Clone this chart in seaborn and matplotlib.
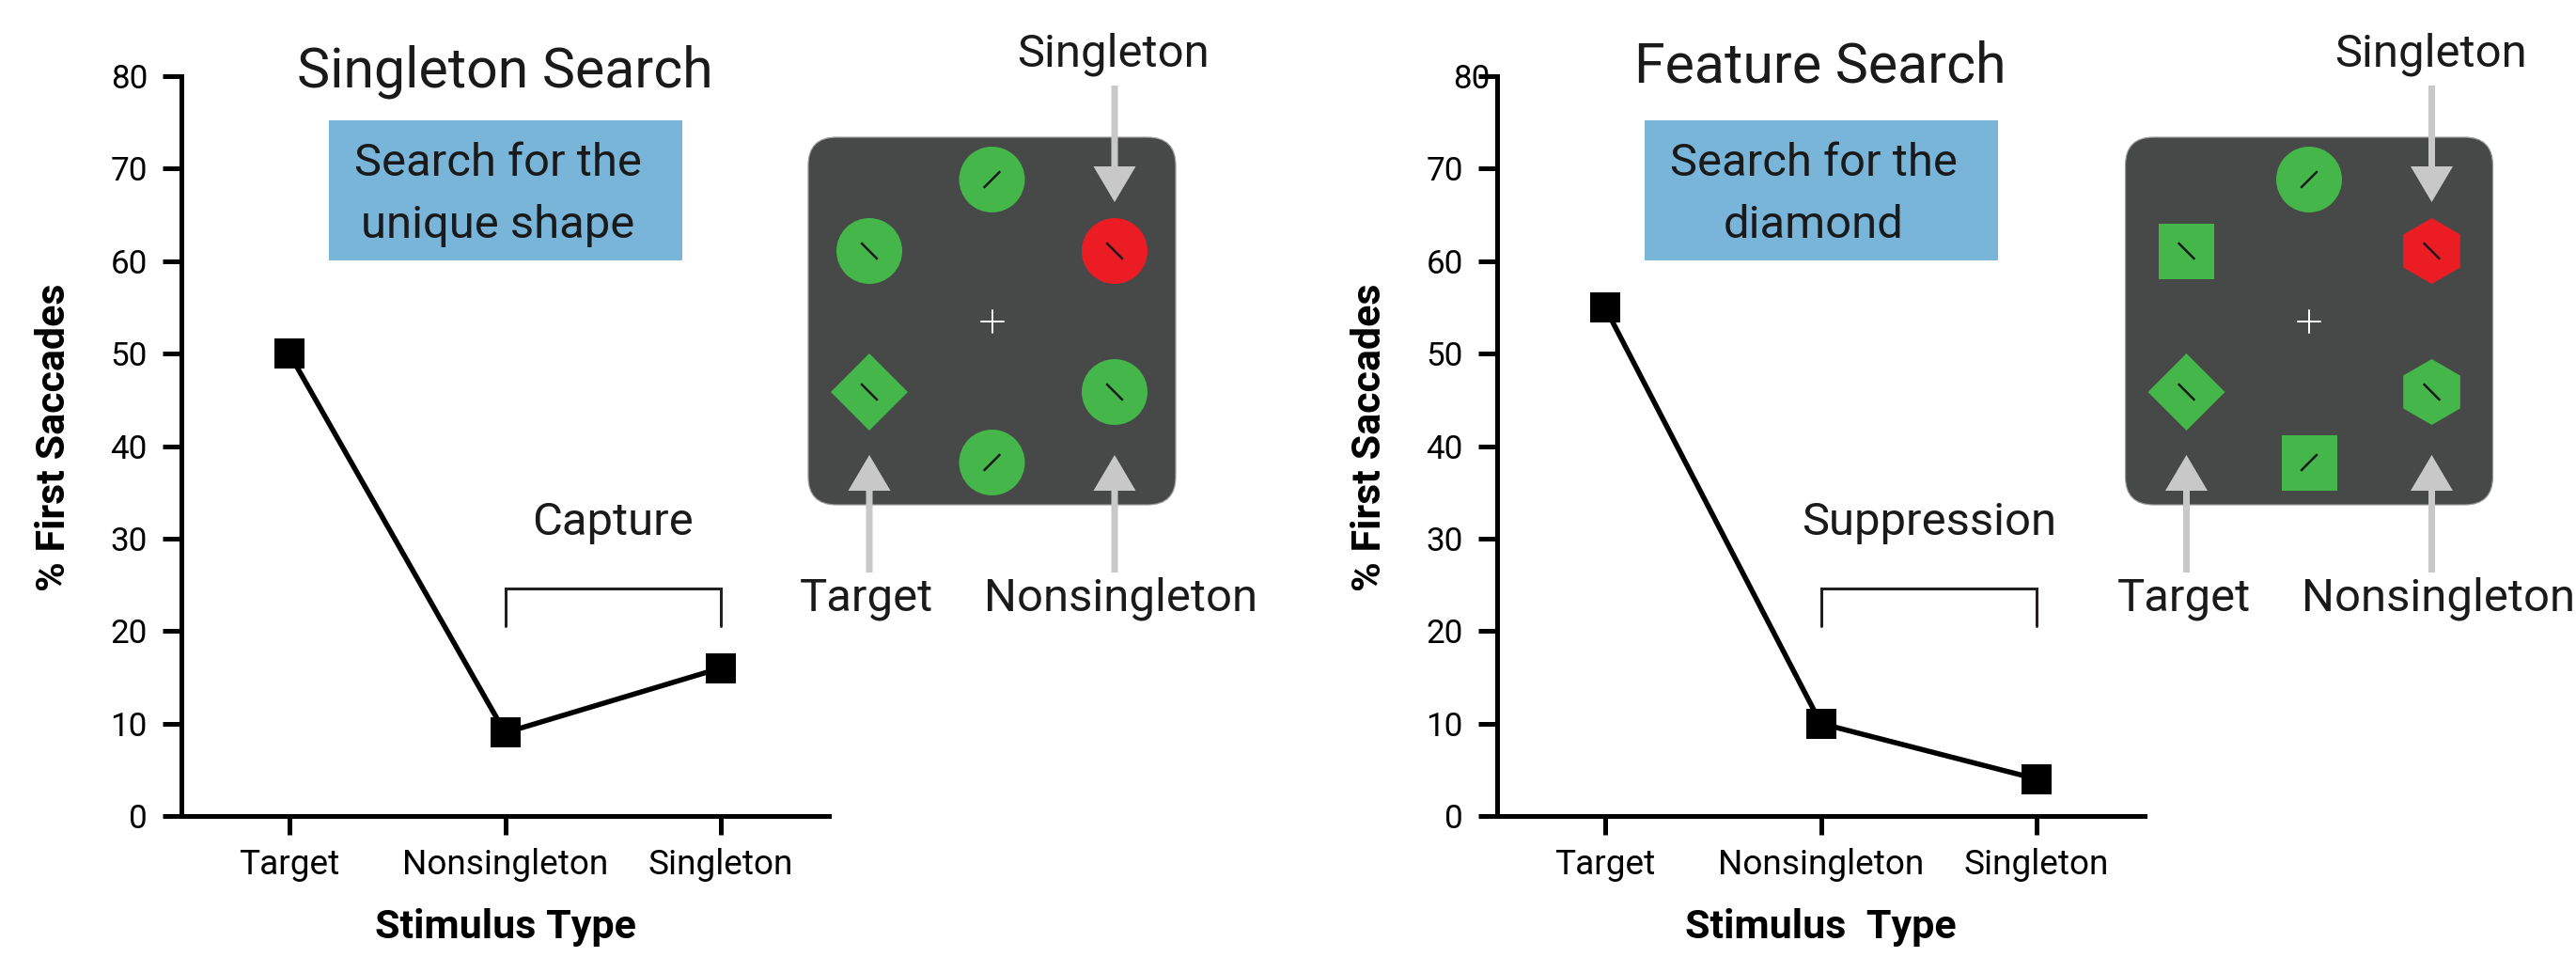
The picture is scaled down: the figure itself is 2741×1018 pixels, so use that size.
import matplotlib
matplotlib.use("Agg")
import matplotlib.pyplot as plt
from matplotlib.patches import FancyBboxPatch, Rectangle, Circle, RegularPolygon, FancyArrow
from matplotlib.transforms import ScaledTranslation
import pandas as pd
import seaborn as sns

# ---- data ----
categories = ["Target", "Nonsingleton", "Singleton"]
singleton_search = [50, 9, 16]
feature_search = [55, 10, 4]
y_ticks = [0, 10, 20, 30, 40, 50, 60, 70, 80]

titles = ["Singleton Search", "Feature Search"]
instructions = [["Search for the", "unique shape"], ["Search for the", "diamond"]]
effects = ["Capture", "Suppression"]
xlabels = ["Stimulus Type", "Stimulus  Type"]
ylabel = "% First Saccades"

# search display items: top, upper-left, upper-right, lower-left, lower-right, bottom
display_shapes = [
    ["circle", "circle", "circle", "diamond", "circle", "circle"],
    ["circle", "square", "hexagon", "diamond", "hexagon", "square"],
]
display_colors = [
    ["green", "green", "red", "green", "green", "green"],
    ["green", "green", "red", "green", "green", "green"],
]
display_tilts = ["/", "\\", "\\", "\\", "\\", "/"]

df = pd.DataFrame({
    "search": [titles[0]] * 3 + [titles[1]] * 3,
    "type": categories * 2,
    "pct": singleton_search + feature_search,
})

# ---- style ----
sns.set_theme(style="ticks")
plt.rcParams["font.family"] = ["Roboto", "DejaVu Sans"]
plt.rcParams["text.color"] = "#1a1a1a"

W, H = 2741, 1018
fig = plt.figure(figsize=(W / 72, H / 72), dpi=72)
fig.patch.set_facecolor("white")

GREEN = "#45b649"
RED = "#ec1c24"
BOX = "#474948"
ARROW = "#c8c8c8"
BLUE = "#79b4d9"
INK = "#1a1a1a"
shift = 1400

axes = []
for i, name in enumerate(titles):
    x0 = 193 + i * shift
    ax = fig.add_axes([x0 / W, 150 / H, 689 / W, 787 / H])
    sub = df[df["search"] == name]
    sns.pointplot(data=sub, x="type", y="pct", order=categories, color="black",
                  markers="s", markersize=32, markeredgewidth=0, linewidth=5.5,
                  errorbar=None, ax=ax)
    ax.set_xlim(-0.5, 2.5)
    ax.set_ylim(0, 80)
    ax.set_yticks(y_ticks)
    sns.despine(ax=ax)
    for s in ["left", "bottom"]:
        ax.spines[s].set_linewidth(5)
        ax.spines[s].set_color("black")
    ax.tick_params(axis="y", length=20, width=5, pad=16, labelsize=35, colors="black")
    ax.tick_params(axis="x", length=20, width=5, pad=14, labelsize=37, colors="black")
    ax.set_ylabel(ylabel, fontsize=43, fontweight="bold", va="center", color="black")
    ax.yaxis.set_label_coords(-0.196, 0.512)
    ax.set_xlabel(xlabels[i], fontsize=43, fontweight="bold", va="baseline", color="black")
    ax.xaxis.set_label_coords(0.5, -0.165)

    # bracket over nonsingleton / singleton
    ax.plot([1, 1, 2, 2], [20.5, 24.6, 24.6, 20.5], color="#231f20", lw=3,
            solid_joinstyle="miter")
    ax.text(1.5, 31.7, effects[i], ha="center", va="center", fontsize=49, color=INK)
    axes.append(ax)

# misplaced "80" label in the right panel
lab = axes[1].get_yticklabels()[-1]
lab.set_transform(lab.get_transform() + ScaledTranslation(28 / 72, 0, fig.dpi_scale_trans))

# ---- overlay for titles, instruction boxes and search displays (pixel coords) ----
ov = fig.add_axes([0, 0, 1, 1])
ov.set_xlim(0, W)
ov.set_ylim(H, 0)
ov.axis("off")
ov.patch.set_alpha(0)

slots = [(0, -150.5), (-130.5, -74.5), (130.5, -74.5), (-130.5, 75.5), (130.5, 75.5), (0, 150.5)]


def draw_display(cx, cy, shapes, colors):
    ov.add_patch(FancyBboxPatch((cx - 195.5, cy - 195.5), 391, 391,
                                boxstyle="round,pad=0,rounding_size=30",
                                fc=BOX, ec="#9c9c9c", lw=1.2))
    for (dx, dy), shp, col, tilt in zip(slots, shapes, colors, display_tilts):
        x, y = cx + dx, cy + dy
        c = GREEN if col == "green" else RED
        if shp == "circle":
            p = Circle((x, y), 35, fc=c, ec="none")
        elif shp == "square":
            p = Rectangle((x - 29.5, y - 29.5), 59, 59, fc=c, ec="none")
        elif shp == "diamond":
            p = RegularPolygon((x, y), 4, radius=41, fc=c, ec="none")
        else:
            p = RegularPolygon((x, y), 6, radius=35, fc=c, ec="none")
        ov.add_patch(p)
        s = 8.8 if tilt == "\\" else -8.8
        ov.plot([x - 8.8, x + 8.8], [y - s, y + s], color=INK, lw=2.5, solid_capstyle="butt")
    ov.plot([cx - 12, cx + 12], [cy, cy], color="white", lw=2)
    ov.plot([cx, cx], [cy - 12, cy + 12], color="white", lw=2)
    # arrows
    xr, xl = cx + 130.5, cx - 130.5
    kw = dict(width=7, head_width=45, head_length=38, length_includes_head=True,
              fc=ARROW, ec="none")
    ov.add_patch(FancyArrow(xr, 91, 0, 124, **kw))
    ov.add_patch(FancyArrow(xl, 609, 0, -125, **kw))
    ov.add_patch(FancyArrow(xr, 609, 0, -125, **kw))
    ov.text(xr - 1, 70, "Singleton", ha="center", va="baseline", fontsize=49, color=INK)
    ov.text(xl - 3, 650, "Target", ha="center", va="baseline", fontsize=49, color=INK)
    ov.text(xr + 7, 650, "Nonsingleton", ha="center", va="baseline", fontsize=49, color=INK)


for i in range(2):
    off = i * shift
    ov.text(537 + off, 92 - 5 * i, titles[i], ha="center", va="baseline", fontsize=59, color=INK)
    ov.add_patch(Rectangle((350 + off, 128), 376, 149, fc=BLUE, ec="none"))
    for line, yb in zip(instructions[i], [187, 253]):
        ov.text(530 + off, yb, line, ha="center", va="baseline", fontsize=49, color=INK)
    draw_display(1055.5 + i * 1401.5, 341.5, display_shapes[i], display_colors[i])

fig.savefig("out.png", dpi=72, facecolor="white")
